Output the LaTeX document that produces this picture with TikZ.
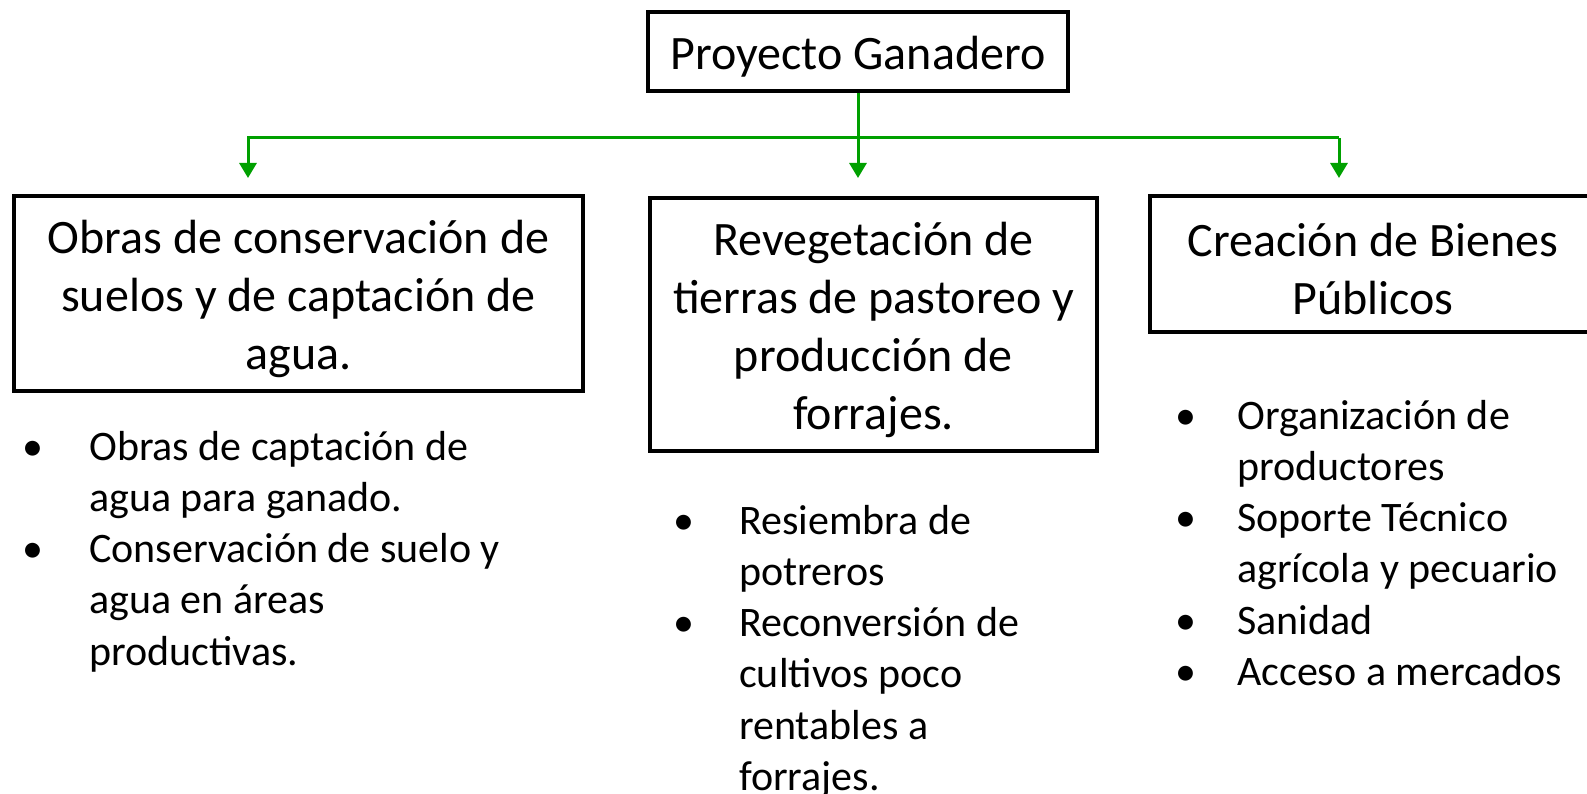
\documentclass[tikz,border=0pt]{standalone}
\usepackage{fontspec}
\setmainfont{Carlito}
\usetikzlibrary{arrows.meta}
\definecolor{lgreen}{RGB}{0,160,0}
\newcommand{\itemlines}[1]{\begin{tabular}[t]{@{}l@{}}#1\end{tabular}}
\newcommand{\topstrut}{\rule{0pt}{44pt}}
\tikzset{
  box/.style={draw=black, line width=3.5pt, rectangle, inner sep=0pt, align=center,
    font=\fontsize{48}{58}\selectfont},
  conn/.style={draw=lgreen, line width=3pt, -{Triangle[width=17pt,length=15pt]}},
  bul/.style={anchor=base, inner sep=0pt, font=\fontsize{42}{51.3}\selectfont},
  item/.style={anchor=base west, inner sep=0pt, font=\fontsize{42}{51.3}\selectfont}
}
\begin{document}
\begin{tikzpicture}[x=1pt,y=-1pt]
\useasboundingbox (0,0) rectangle (1587,794);
\fill[white] (0,0) rectangle (1587,794);
% boxes
\node[box, minimum width=420pt, minimum height=79pt] (top) at (858,51.5) {\topstrut Proyecto Ganadero};
\node[box, minimum width=569pt, minimum height=195pt] (left) at (298.5,293.5)
  {\topstrut Obras de conservación de\\ suelos y de captación de\\ agua.};
\node[box, minimum width=447pt, minimum height=253pt] (mid) at (873.5,324.5)
  {\topstrut Revegetación de\\ tierras de pastoreo y\\ producción de\\ forrajes.};
\node[box, minimum width=446pt, minimum height=136pt] (right) at (1373,264)
  {\topstrut Creación de Bienes\\ Públicos};
% connectors
\coordinate (jl) at (248,138);
\coordinate (jr) at (1339,138);
\coordinate (al) at (248,178);
\coordinate (ar) at (1339,178);
\coordinate (am) at (858,178);
\draw[conn] (top.south) -- (am);
\draw[conn] (jr) -| (al);
\draw[conn] (jr) -- (ar);
% left bullets
\node[bul] (lb1) at (33.4,460) {•};
\node[item] (li1) at (89,460) {\itemlines{Obras de captación de\\ agua para ganado.}};
\node[bul] (lb2) at (33.4,562.6) {•};
\node[item] (li2) at (89,562.6) {\itemlines{Conservación de suelo y\\ agua en áreas\\ productivas.}};
% middle bullets
\node[bul] (mb1) at (684,534) {•};
\node[item] (mi1) at (739,534) {\itemlines{Resiembra de\\ potreros}};
\node[bul] (mb2) at (684,636.6) {•};
\node[item] (mi2) at (739,636.6) {\itemlines{Reconversión de\\ cultivos poco\\ rentables a\\ forrajes.}};
% right bullets
\node[bul] (rb1) at (1186,429) {•};
\node[item] (ri1) at (1237,429) {\itemlines{Organización de\\ productores}};
\node[bul] (rb2) at (1186,531.6) {•};
\node[item] (ri2) at (1237,531.6) {\itemlines{Soporte Técnico\\ agrícola y pecuario}};
\node[bul] (rb3) at (1186,634.2) {•};
\node[item] (ri3) at (1237,634.2) {Sanidad};
\node[bul] (rb4) at (1186,685.5) {•};
\node[item] (ri4) at (1237,685.5) {Acceso a mercados};
\end{tikzpicture}
\end{document}
